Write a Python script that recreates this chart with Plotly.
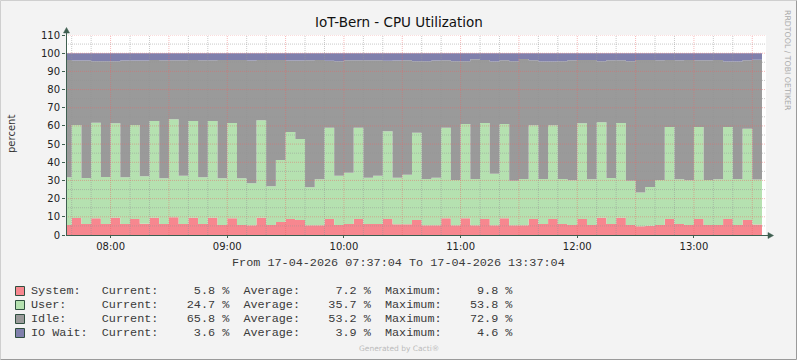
import plotly.graph_objects as go
from datetime import datetime, timedelta

# ---- data (5-minute intervals, first interval 07:35-07:40, last 13:30-13:35) ----
system = [5.5, 9.4, 6.0, 9.2, 6.0, 9.5, 6.0, 8.8, 6.2, 9.5,
          6.0, 9.8, 6.0, 9.5, 6.0, 9.5, 5.5, 9.2, 5.5, 5.3,
          9.5, 5.5, 7.2, 8.8, 8.3, 5.3, 5.3, 8.8, 5.5, 6.0,
          8.8, 6.0, 6.0, 8.8, 5.9, 5.9, 8.3, 5.3, 5.3, 9.2,
          5.3, 9.2, 5.3, 8.8, 5.3, 9.2, 5.3, 5.3, 8.8, 6.0,
          8.8, 6.0, 5.5, 8.8, 5.5, 9.5, 6.0, 9.5, 5.5, 4.8,
          5.1, 5.5, 8.8, 6.0, 5.5, 8.8, 5.5, 5.5, 8.8, 5.5,
          8.3, 5.8]
user = [26.2, 51.1, 25.4, 52.6, 25.9, 51.9, 25.7, 51.7, 26.1, 53.2,
        25.2, 53.8, 26.6, 53.2, 25.7, 53.2, 25.7, 52.4, 25.7, 23.1,
        53.6, 21.3, 34.1, 47.9, 44.5, 20.9, 25.3, 50.2, 27.1, 28.3,
        50.2, 25.5, 26.6, 48.2, 25.6, 27.3, 48.0, 25.5, 26.2, 49.8,
        25.0, 51.9, 25.5, 52.8, 28.4, 51.9, 24.6, 25.5, 51.5, 24.8,
        51.5, 24.8, 24.6, 52.6, 25.1, 52.5, 25.4, 52.1, 24.4, 18.6,
        21.3, 24.8, 50.6, 24.6, 24.6, 50.6, 24.8, 25.1, 50.6, 25.3,
        50.2, 24.7]
idle = [64.6, 35.5, 64.6, 33.8, 63.7, 34.2, 64.3, 35.5, 63.7, 33.6,
        64.9, 32.5, 63.5, 33.6, 64.4, 33.4, 65.1, 34.7, 65.1, 67.6,
        33.2, 69.5, 55.0, 39.3, 43.2, 69.9, 65.7, 36.8, 63.0, 61.8,
        37.1, 64.6, 63.5, 38.8, 64.5, 62.9, 39.3, 64.8, 64.5, 37.1,
        65.3, 34.5, 65.8, 34.7, 61.7, 35.0, 65.7, 66.0, 35.8, 64.6,
        35.1, 64.8, 66.0, 34.9, 65.7, 33.6, 64.7, 34.5, 65.7, 72.9,
        69.9, 65.8, 36.9, 65.5, 66.2, 36.7, 65.8, 65.7, 36.0, 64.6,
        37.6, 65.9]
iowait = [3.7, 4.0, 4.0, 4.4, 4.4, 4.4, 4.0, 4.0, 4.0, 3.7,
          3.9, 3.9, 3.9, 3.7, 3.9, 3.9, 3.7, 3.7, 3.7, 4.0,
          3.7, 3.7, 3.7, 4.0, 4.0, 3.9, 3.7, 4.2, 4.4, 3.9,
          3.9, 3.9, 3.9, 4.2, 4.0, 3.9, 4.4, 4.4, 4.0, 3.9,
          4.4, 4.4, 3.4, 3.7, 4.6, 3.9, 4.4, 3.2, 3.9, 4.6,
          4.6, 4.4, 3.9, 3.7, 3.7, 4.4, 3.9, 3.9, 4.4, 3.7,
          3.7, 3.9, 3.7, 3.9, 3.7, 3.9, 3.9, 3.7, 4.6, 4.6,
          3.9, 3.6]

series_names = ["System:", "User:", "Idle:", "IO Wait:"]
legend_current = [5.8, 24.7, 65.8, 3.6]
legend_average = [7.2, 35.7, 53.2, 3.9]
legend_maximum = [9.8, 53.8, 72.9, 4.6]
x_tick_labels = ["08:00", "09:00", "10:00", "11:00", "12:00", "13:00"]
y_tick_values = [0, 10, 20, 30, 40, 50, 60, 70, 80, 90, 100, 110]

title_text = "IoT-Bern - CPU Utilization"
period_text = "From 17-04-2026 07:37:04 To 17-04-2026 13:37:04"

# ---- styles ----
colors = ["#F7878F", "#B5E1B0", "#9A9A9A", "#8080AC"]
AXIS = "#3F5F50"
W, H = 797, 360
ML, MR, MT, MB = 66, 31, 35, 125
PW, PH = W - ML - MR, H - MT - MB

def px(xp):
    return (xp - ML) / PW

def py(yp):
    return (H - MB - yp) / PH

t_first = datetime(2026, 4, 17, 7, 35)
x = [t_first + timedelta(minutes=5 * i) for i in range(len(system) + 1)]

def ext(v):
    return list(v) + [v[-1]]

fig = go.Figure()
for name, vals, col in zip(series_names, [system, user, idle, iowait], colors):
    fig.add_trace(go.Scatter(
        x=x, y=ext(vals), name=name.rstrip(":"), mode="lines",
        stackgroup="cpu", line=dict(shape="hv", width=0, color=col),
        fillcolor=col, hoverinfo="skip", showlegend=False))

x_start = datetime(2026, 4, 17, 7, 37, 4)
x_end = datetime(2026, 4, 17, 13, 37, 4)

shapes = []
# grid (drawn above the areas like rrdtool)
MINOR = "rgba(150,150,150,0.5)"
MAJOR = "rgba(235,100,100,0.45)"
t = datetime(2026, 4, 17, 7, 40)
while t < x_end:
    major = (t.minute % 30 == 0)
    shapes.append(dict(type="line", xref="x", yref="paper", x0=t, x1=t, y0=0, y1=1,
                       layer="above",
                       line=dict(color=MAJOR if major else MINOR, width=1, dash="1px,1px")))
    t += timedelta(minutes=10)
for yv in range(5, 115, 5):
    major = (yv % 10 == 0)
    shapes.append(dict(type="line", xref="paper", yref="y", x0=0, x1=1, y0=yv, y1=yv,
                       layer="above",
                       line=dict(color=MAJOR if major else MINOR, width=1, dash="1px,1px")))

# axes with arrows
shapes.append(dict(type="line", xref="paper", yref="paper", x0=px(66.5), x1=px(66.5),
                   y0=py(236), y1=py(31), line=dict(color=AXIS, width=1), layer="above"))
shapes.append(dict(type="line", xref="paper", yref="paper", x0=px(66), x1=px(770),
                   y0=py(235.5), y1=py(235.5), line=dict(color=AXIS, width=1), layer="above"))
shapes.append(dict(type="path", xref="paper", yref="paper",
                   path=f"M {px(63.5)},{py(33)} L {px(69.5)},{py(33)} L {px(66.5)},{py(27.5)} Z",
                   fillcolor=AXIS, line=dict(color=AXIS, width=0.5), layer="above"))
shapes.append(dict(type="path", xref="paper", yref="paper",
                   path=f"M {px(768)},{py(232.5)} L {px(768)},{py(238.5)} L {px(773.5)},{py(235.5)} Z",
                   fillcolor=AXIS, line=dict(color=AXIS, width=0.5), layer="above"))

# outer frame
shapes.append(dict(type="path", xref="paper", yref="paper",
                   path=f"M {px(0.5)},{py(359.5)} L {px(0.5)},{py(0.5)} L {px(796.5)},{py(0.5)}",
                   line=dict(color="#CFCFCF", width=1)))
shapes.append(dict(type="path", xref="paper", yref="paper",
                   path=f"M {px(0.5)},{py(359.5)} L {px(796.5)},{py(359.5)} L {px(796.5)},{py(0.5)}",
                   line=dict(color="#9A9A9A", width=1)))

annotations = []
MONO = dict(family="Liberation Mono", size=11.8, color="#3A3A3A")
# legend rows
row_y = [291, 305, 319, 333]
for name, cur, avg, mx, col, ry in zip(series_names, legend_current, legend_average,
                                       legend_maximum, colors, row_y):
    shapes.append(dict(type="rect", xref="paper", yref="paper",
                       x0=px(15.5), x1=px(24.5), y0=py(ry - 4.5), y1=py(ry + 4.5),
                       fillcolor=col, line=dict(color="#2F4F3F", width=1)))
    txt = f"{name:<10}Current:{cur:>8.1f} %  Average:{avg:>8.1f} %  Maximum:{mx:>8.1f} %"
    annotations.append(dict(text=txt.replace(" ", "\u00a0"), xref="paper", yref="paper",
                            x=px(28.5), y=py(ry), xanchor="left", yanchor="middle",
                            showarrow=False, font=MONO))

annotations.append(dict(text=title_text, xref="paper", yref="paper", x=px(398.5), y=py(22),
                        xanchor="center", yanchor="middle", showarrow=False,
                        font=dict(family="DejaVu Sans", size=13.5, color="#111111")))
annotations.append(dict(text=period_text.replace(" ", "\u00a0"), xref="paper", yref="paper",
                        x=px(398.5), y=py(263), xanchor="center", yanchor="middle",
                        showarrow=False, font=MONO))
annotations.append(dict(text="percent", xref="paper", yref="paper", x=px(11), y=py(134),
                        xanchor="center", yanchor="middle", showarrow=False, textangle=-90,
                        font=dict(family="DejaVu Sans", size=10, color="#333333")))
annotations.append(dict(text="RRDTOOL / TOBI OETIKER", xref="paper", yref="paper",
                        x=px(788), y=py(60), xanchor="center", yanchor="middle",
                        showarrow=False, textangle=90,
                        font=dict(family="DejaVu Sans", size=7.8, color="#AAAAAA")))
annotations.append(dict(text="Generated by Cacti®", xref="paper", yref="paper",
                        x=px(398.5), y=py(349), xanchor="center", yanchor="middle",
                        showarrow=False,
                        font=dict(family="DejaVu Sans", size=7.5, color="#BBBBBB")))

x_tick_vals = [datetime(2026, 4, 17, int(s[:2]), 0) for s in x_tick_labels]

fig.update_layout(
    width=W, height=H, autosize=False,
    margin=dict(l=ML, r=MR, t=MT, b=MB, pad=0),
    paper_bgcolor="#F3F3F3", plot_bgcolor="#FFFFFF",
    showlegend=False,
    shapes=shapes, annotations=annotations,
    xaxis=dict(type="date", range=[x_start, x_end], showgrid=False, zeroline=False,
               showline=False, tickmode="array", tickvals=x_tick_vals, ticktext=x_tick_labels,
               ticks="outside", ticklen=2, tickcolor=AXIS,
               tickfont=dict(family="DejaVu Sans", size=10, color="#222222"),
               fixedrange=True),
    yaxis=dict(range=[0, 110], showgrid=False, zeroline=False, showline=False,
               tickmode="array", tickvals=y_tick_values,
               ticks="outside", ticklen=3, tickcolor=AXIS,
               tickfont=dict(family="DejaVu Sans", size=10, color="#222222"),
               fixedrange=True),
)

fig.write_html("out.html", config={"displayModeBar": False},
               post_script="document.body.style.margin='0';document.body.style.overflow='hidden';")
